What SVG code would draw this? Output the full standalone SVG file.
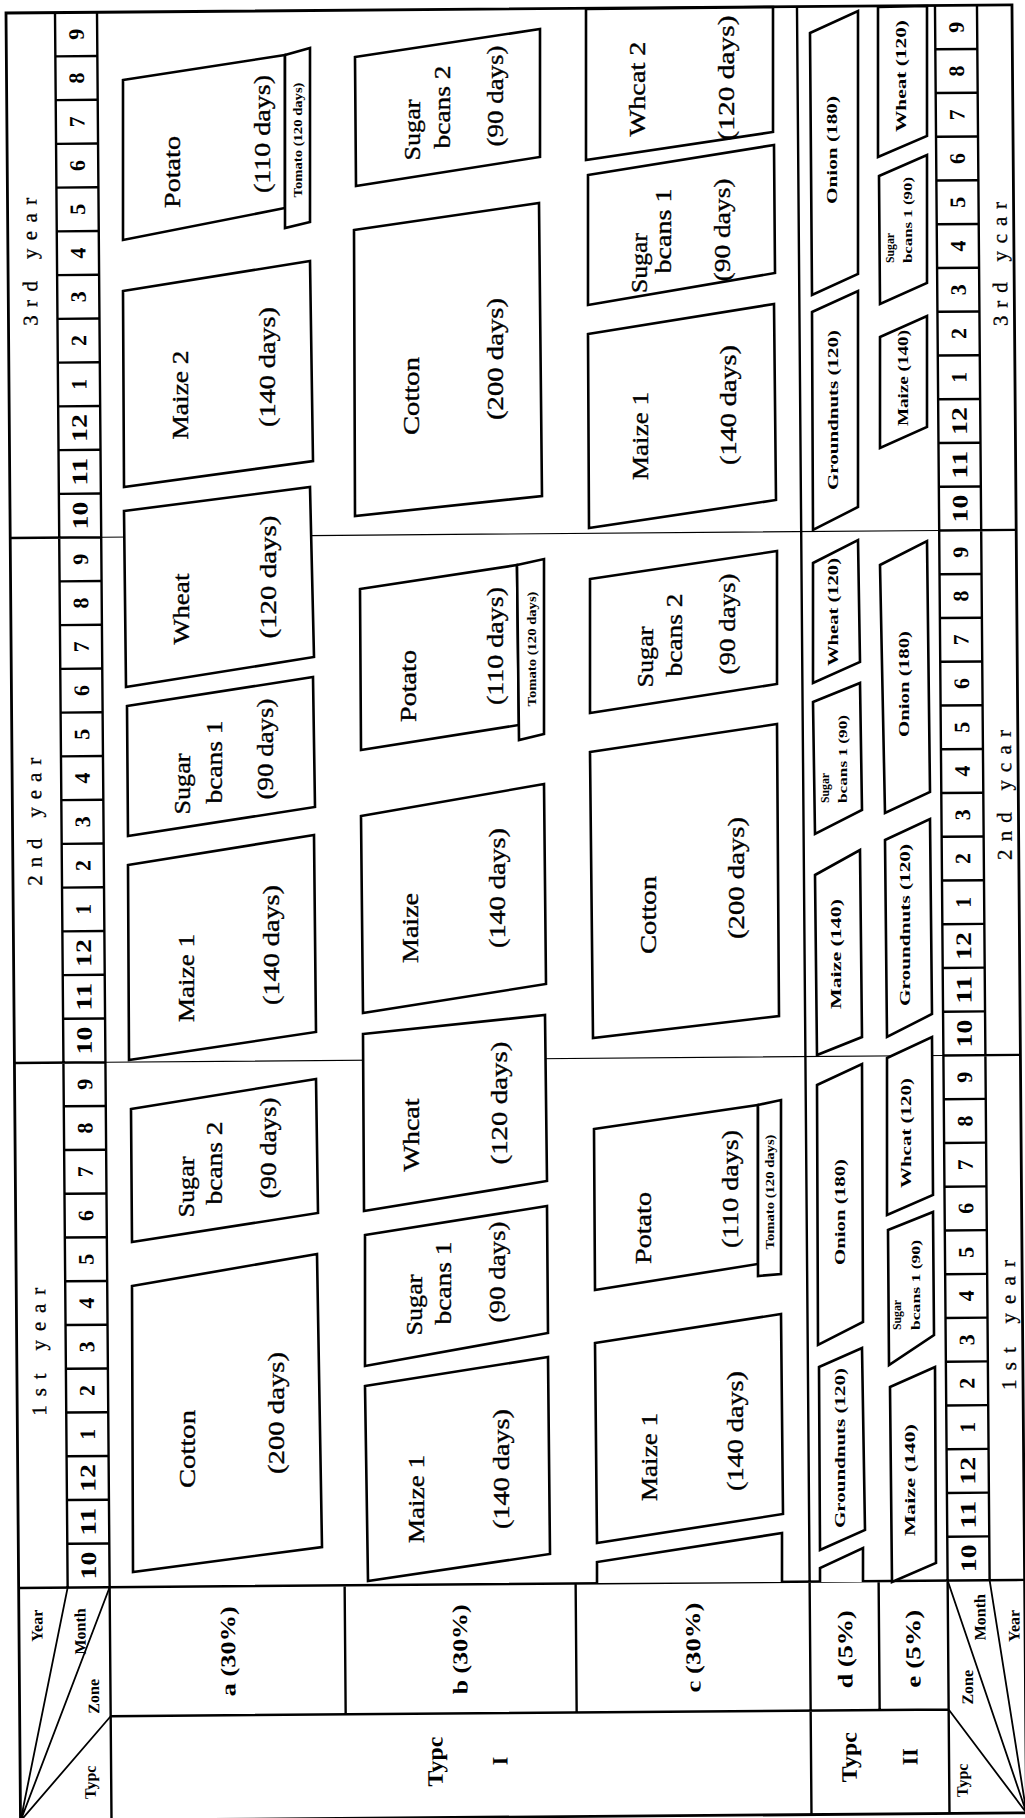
<svg xmlns="http://www.w3.org/2000/svg" xmlns:xlink="http://www.w3.org/1999/xlink" width="1025" height="1818" viewBox="0 0 1025 1818">
<style>
text{font-family:"Liberation Serif","Times New Roman",serif;fill:#000;text-anchor:middle;dominant-baseline:central}
.ln{stroke:#000;fill:none;stroke-width:2.4}
.bd{stroke:#000;fill:none;stroke-width:2.8}
.th{stroke:#000;fill:none;stroke-width:1.2}
.dg{stroke:#000;fill:none;stroke-width:1.8}
.nodes polygon,.nodes polyline{fill:#fff;stroke:#000;stroke-width:2.6;stroke-linejoin:miter}
.bg{font-size:23px;stroke:#000;stroke-width:0.35}
.sm{font-size:15px;font-weight:bold}
.tm{font-size:12px;font-weight:bold}
.sg{font-size:12px;font-weight:bold}
.bc{font-size:13px;font-weight:bold}
.mo{font-size:22px;font-weight:bold}
.yr{font-size:21px;stroke:#000;stroke-width:0.3}
.zn{font-size:21px;font-weight:bold}
.hd{font-size:16px;font-weight:bold}
.ty{font-size:22px;font-weight:bold}
</style>
<defs>
<g id="mcol">
<path class="ln" d="M-21 56.75H21M-21 100.5H21M-21 144.25H21M-21 188H21M-21 231.75H21M-21 275.5H21M-21 319.25H21M-21 363H21M-21 406.75H21M-21 450.5H21M-21 494.25H21M-21 581.75H21M-21 625.5H21M-21 669.25H21M-21 713H21M-21 756.75H21M-21 800.5H21M-21 844.25H21M-21 888H21M-21 931.75H21M-21 975.5H21M-21 1019.25H21M-21 1106.75H21M-21 1150.5H21M-21 1194.25H21M-21 1238H21M-21 1281.75H21M-21 1325.5H21M-21 1369.25H21M-21 1413H21M-21 1456.75H21M-21 1500.5H21M-21 1544.25H21"/>
<text class="mo" transform="translate(0 34.9) rotate(-90)">9</text>
<text class="mo" transform="translate(0 78.6) rotate(-90)">8</text>
<text class="mo" transform="translate(0 122.4) rotate(-90)">7</text>
<text class="mo" transform="translate(0 166.1) rotate(-90)">6</text>
<text class="mo" transform="translate(0 209.9) rotate(-90)">5</text>
<text class="mo" transform="translate(0 253.6) rotate(-90)">4</text>
<text class="mo" transform="translate(0 297.4) rotate(-90)">3</text>
<text class="mo" transform="translate(0 341.1) rotate(-90)">2</text>
<text class="mo" transform="translate(0 384.9) rotate(-90)">1</text>
<text class="mo" transform="translate(0 428.6) rotate(-90)" textLength="28" lengthAdjust="spacingAndGlyphs">12</text>
<text class="mo" transform="translate(0 472.4) rotate(-90)" textLength="28" lengthAdjust="spacingAndGlyphs">11</text>
<text class="mo" transform="translate(0 516.1) rotate(-90)" textLength="28" lengthAdjust="spacingAndGlyphs">10</text>
<text class="mo" transform="translate(0 559.9) rotate(-90)">9</text>
<text class="mo" transform="translate(0 603.6) rotate(-90)">8</text>
<text class="mo" transform="translate(0 647.4) rotate(-90)">7</text>
<text class="mo" transform="translate(0 691.1) rotate(-90)">6</text>
<text class="mo" transform="translate(0 734.9) rotate(-90)">5</text>
<text class="mo" transform="translate(0 778.6) rotate(-90)">4</text>
<text class="mo" transform="translate(0 822.4) rotate(-90)">3</text>
<text class="mo" transform="translate(0 866.1) rotate(-90)">2</text>
<text class="mo" transform="translate(0 909.9) rotate(-90)">1</text>
<text class="mo" transform="translate(0 953.6) rotate(-90)" textLength="28" lengthAdjust="spacingAndGlyphs">12</text>
<text class="mo" transform="translate(0 997.4) rotate(-90)" textLength="28" lengthAdjust="spacingAndGlyphs">11</text>
<text class="mo" transform="translate(0 1041.1) rotate(-90)" textLength="28" lengthAdjust="spacingAndGlyphs">10</text>
<text class="mo" transform="translate(0 1084.9) rotate(-90)">9</text>
<text class="mo" transform="translate(0 1128.6) rotate(-90)">8</text>
<text class="mo" transform="translate(0 1172.4) rotate(-90)">7</text>
<text class="mo" transform="translate(0 1216.1) rotate(-90)">6</text>
<text class="mo" transform="translate(0 1259.9) rotate(-90)">5</text>
<text class="mo" transform="translate(0 1303.6) rotate(-90)">4</text>
<text class="mo" transform="translate(0 1347.4) rotate(-90)">3</text>
<text class="mo" transform="translate(0 1391.1) rotate(-90)">2</text>
<text class="mo" transform="translate(0 1434.9) rotate(-90)">1</text>
<text class="mo" transform="translate(0 1478.6) rotate(-90)" textLength="28" lengthAdjust="spacingAndGlyphs">12</text>
<text class="mo" transform="translate(0 1522.4) rotate(-90)" textLength="28" lengthAdjust="spacingAndGlyphs">11</text>
<text class="mo" transform="translate(0 1566.1) rotate(-90)" textLength="28" lengthAdjust="spacingAndGlyphs">10</text>
</g>
</defs>
<rect x="0" y="0" width="1025" height="1818" fill="#fff"/>

<g id="table" transform="rotate(-0.46 6 13)">
<rect class="bd" x="6" y="13" width="1006" height="1808"/>
<path class="ln" d="M55 13V1588M97 13V1821M797 13V1821M935 13V1821M977 13V1588M6 1588H1012M97 1717H935M332 1588V1717M563 1588V1717M866 1588V1717M6 538H97M6 1063H97M935 538H1012M935 1063H1012"/>
<path class="th" d="M97 538H935M97 1063H935"/>
<path class="dg" d="M6 1821L55 1588M6 1821L97 1588M6 1821L97 1717M1012 1821L935 1588M1012 1821L977 1588M1012 1821L935 1717"/>
<use href="#mcol" xlink:href="#mcol" transform="translate(76 0)"/>
<use href="#mcol" xlink:href="#mcol" transform="translate(956 0)"/>
<text class="yr" transform="translate(28 262) rotate(-90)" textLength="128" lengthAdjust="spacing">3rd year</text>
<text class="yr" transform="translate(28 822) rotate(-90)" textLength="128" lengthAdjust="spacing">2nd year</text>
<text class="yr" transform="translate(28 1352) rotate(-90)" textLength="128" lengthAdjust="spacing">1st year</text>
<text class="yr" transform="translate(998 272) rotate(-90)" textLength="124" lengthAdjust="spacing">3rd ycar</text>
<text class="yr" transform="translate(998 803) rotate(-90)" textLength="130" lengthAdjust="spacing">2nd ycar</text>
<text class="yr" transform="translate(998 1333) rotate(-90)" textLength="130" lengthAdjust="spacing">1st year</text>
<text class="zn" transform="translate(215 1653) rotate(-90)" textLength="90" lengthAdjust="spacingAndGlyphs">a (30%)</text>
<text class="zn" transform="translate(447 1653) rotate(-90)" textLength="90" lengthAdjust="spacingAndGlyphs">b (30%)</text>
<text class="zn" transform="translate(680 1653) rotate(-90)" textLength="90" lengthAdjust="spacingAndGlyphs">c (30%)</text>
<text class="zn" transform="translate(832 1656) rotate(-90)" textLength="78" lengthAdjust="spacingAndGlyphs">d (5%)</text>
<text class="zn" transform="translate(900 1656) rotate(-90)" textLength="78" lengthAdjust="spacingAndGlyphs">e (5%)</text>
<text class="ty" transform="translate(421 1765) rotate(-90)" textLength="50" lengthAdjust="spacingAndGlyphs">Typc</text>
<text class="ty" transform="translate(486 1765) rotate(-90)">I</text>
<text class="ty" transform="translate(835 1764) rotate(-90)" textLength="50" lengthAdjust="spacingAndGlyphs">Typc</text>
<text class="ty" transform="translate(896 1764) rotate(-90)">II</text>
<text class="hd" transform="translate(24 1626) rotate(-90)">Year</text>
<text class="hd" transform="translate(67 1632) rotate(-90)">Month</text>
<text class="hd" transform="translate(80 1697) rotate(-90)">Zone</text>
<text class="hd" transform="translate(76 1783) rotate(-90)">Typc</text>
<text class="hd" transform="translate(954 1695) rotate(-90)">Zone</text>
<text class="hd" transform="translate(967 1625) rotate(-90)">Month</text>
<text class="hd" transform="translate(1001 1634) rotate(-90)">Year</text>
<text class="hd" transform="translate(948 1788) rotate(-90)">Typc</text>
</g>

<g id="crops" class="nodes">
<g id="a3-potato"><polygon points="123,80 285,55 285,208 123,240"/><text class="bg" transform="translate(172 172) rotate(-90)" textLength="72" lengthAdjust="spacingAndGlyphs">Potato</text><text class="bg" transform="translate(262 134) rotate(-90)" textLength="118" lengthAdjust="spacingAndGlyphs">(110 days)</text></g>
<g id="a3-tomato"><polygon points="285,55 310,48 310,222 285,228"/><text class="tm" transform="translate(298 140) rotate(-90)" textLength="115" lengthAdjust="spacingAndGlyphs">Tomato (120 days)</text></g>
<g id="a3-maize2"><polygon points="123,291 310,261 313,461 124,487"/><text class="bg" transform="translate(180 395) rotate(-90)" textLength="89" lengthAdjust="spacingAndGlyphs">Maize 2</text><text class="bg" transform="translate(267 367) rotate(-90)" textLength="120" lengthAdjust="spacingAndGlyphs">(140 days)</text></g>
<g id="a2-wheat"><polygon points="124,511 310,487 314,657 126,687"/><text class="bg" transform="translate(181 609) rotate(-90)" textLength="71" lengthAdjust="spacingAndGlyphs">Wheat</text><text class="bg" transform="translate(268 577) rotate(-90)" textLength="123" lengthAdjust="spacingAndGlyphs">(120 days)</text></g>
<g id="a2-sb1"><polygon points="127,706 313,677 315,807 128,836"/><text class="bg" transform="translate(182 784) rotate(-90)" textLength="61" lengthAdjust="spacingAndGlyphs">Sugar</text><text class="bg" transform="translate(214 762) rotate(-90)" textLength="83" lengthAdjust="spacingAndGlyphs">bcans 1</text><text class="bg" transform="translate(265 749) rotate(-90)" textLength="101" lengthAdjust="spacingAndGlyphs">(90 days)</text></g>
<g id="a2-maize1"><polygon points="128,865 314,835 316,1032 129,1060"/><text class="bg" transform="translate(186 978) rotate(-90)" textLength="88" lengthAdjust="spacingAndGlyphs">Maize 1</text><text class="bg" transform="translate(271 945) rotate(-90)" textLength="120" lengthAdjust="spacingAndGlyphs">(140 days)</text></g>
<g id="a1-sb2"><polygon points="131,1109 316,1079 318,1213 132,1242"/><text class="bg" transform="translate(186 1187) rotate(-90)" textLength="61" lengthAdjust="spacingAndGlyphs">Sugar</text><text class="bg" transform="translate(214 1163) rotate(-90)" textLength="83" lengthAdjust="spacingAndGlyphs">bcans 2</text><text class="bg" transform="translate(268 1148) rotate(-90)" textLength="101" lengthAdjust="spacingAndGlyphs">(90 days)</text></g>
<g id="a1-cotton"><polygon points="132,1286 317,1254 322,1547 133,1572"/><text class="bg" transform="translate(187 1449) rotate(-90)" textLength="78" lengthAdjust="spacingAndGlyphs">Cotton</text><text class="bg" transform="translate(276 1413) rotate(-90)" textLength="122" lengthAdjust="spacingAndGlyphs">(200 days)</text></g>

<g id="b3-sb2"><polygon points="355,57 540,29 540,157 356,186"/><text class="bg" transform="translate(412 130) rotate(-90)" textLength="61" lengthAdjust="spacingAndGlyphs">Sugar</text><text class="bg" transform="translate(442 107) rotate(-90)" textLength="83" lengthAdjust="spacingAndGlyphs">bcans 2</text><text class="bg" transform="translate(495 96) rotate(-90)" textLength="101" lengthAdjust="spacingAndGlyphs">(90 days)</text></g>
<g id="b3-cotton"><polygon points="354,230 539,203 542,496 355,516"/><text class="bg" transform="translate(411 396) rotate(-90)" textLength="78" lengthAdjust="spacingAndGlyphs">Cotton</text><text class="bg" transform="translate(495 359) rotate(-90)" textLength="122" lengthAdjust="spacingAndGlyphs">(200 days)</text></g>
<g id="b2-potato"><polygon points="360,589 517,565 519,725 361,750"/><text class="bg" transform="translate(408 686) rotate(-90)" textLength="72" lengthAdjust="spacingAndGlyphs">Potato</text><text class="bg" transform="translate(495 646) rotate(-90)" textLength="118" lengthAdjust="spacingAndGlyphs">(110 days)</text></g>
<g id="b2-tomato"><polygon points="517,565 544,559 544,734 519,740"/><text class="tm" transform="translate(532 649) rotate(-90)" textLength="115" lengthAdjust="spacingAndGlyphs">Tomato (120 days)</text></g>
<g id="b2-maize"><polygon points="361,816 544,784 546,984 363,1013"/><text class="bg" transform="translate(410 928) rotate(-90)" textLength="70" lengthAdjust="spacingAndGlyphs">Maize</text><text class="bg" transform="translate(497 888) rotate(-90)" textLength="120" lengthAdjust="spacingAndGlyphs">(140 days)</text></g>
<g id="b1-wheat"><polygon points="363,1034 545,1015 547,1181 364,1211"/><text class="bg" transform="translate(411 1135) rotate(-90)" textLength="73" lengthAdjust="spacingAndGlyphs">Whcat</text><text class="bg" transform="translate(499 1103) rotate(-90)" textLength="123" lengthAdjust="spacingAndGlyphs">(120 days)</text></g>
<g id="b1-sb1"><polygon points="365,1235 547,1206 548,1333 365,1366"/><text class="bg" transform="translate(414 1305) rotate(-90)" textLength="61" lengthAdjust="spacingAndGlyphs">Sugar</text><text class="bg" transform="translate(443 1283) rotate(-90)" textLength="83" lengthAdjust="spacingAndGlyphs">bcans 1</text><text class="bg" transform="translate(497 1272) rotate(-90)" textLength="101" lengthAdjust="spacingAndGlyphs">(90 days)</text></g>
<g id="b1-maize1"><polygon points="365,1386 548,1357 550,1554 368,1581"/><text class="bg" transform="translate(416 1499) rotate(-90)" textLength="88" lengthAdjust="spacingAndGlyphs">Maize 1</text><text class="bg" transform="translate(501 1469) rotate(-90)" textLength="120" lengthAdjust="spacingAndGlyphs">(140 days)</text></g>

<g id="c3-wheat2"><polygon points="586,9 773,7 773,132 586,160"/><text class="bg" transform="translate(637 89) rotate(-90)" textLength="95" lengthAdjust="spacingAndGlyphs">Whcat 2</text><text class="bg" transform="translate(726 78) rotate(-90)" textLength="125" lengthAdjust="spacingAndGlyphs">(120 days)</text></g>
<g id="c3-sb1"><polygon points="588,175 774,145 775,273 588,305"/><text class="bg" transform="translate(639 263) rotate(-90)" textLength="60" lengthAdjust="spacingAndGlyphs">Sugar</text><text class="bg" transform="translate(663 231) rotate(-90)" textLength="85" lengthAdjust="spacingAndGlyphs">bcans 1</text><text class="bg" transform="translate(722 230) rotate(-90)" textLength="103" lengthAdjust="spacingAndGlyphs">(90 days)</text></g>
<g id="c3-maize1"><polygon points="588,334 774,304 776,500 589,528"/><text class="bg" transform="translate(640 436) rotate(-90)" textLength="88" lengthAdjust="spacingAndGlyphs">Maize 1</text><text class="bg" transform="translate(728 405) rotate(-90)" textLength="120" lengthAdjust="spacingAndGlyphs">(140 days)</text></g>
<g id="c2-sb2"><polygon points="590,579 777,551 777,684 590,713"/><text class="bg" transform="translate(645 657) rotate(-90)" textLength="61" lengthAdjust="spacingAndGlyphs">Sugar</text><text class="bg" transform="translate(674 635) rotate(-90)" textLength="83" lengthAdjust="spacingAndGlyphs">bcans 2</text><text class="bg" transform="translate(727 624) rotate(-90)" textLength="101" lengthAdjust="spacingAndGlyphs">(90 days)</text></g>
<g id="c2-cotton"><polygon points="590,752 777,724 779,1016 593,1038"/><text class="bg" transform="translate(648 915) rotate(-90)" textLength="78" lengthAdjust="spacingAndGlyphs">Cotton</text><text class="bg" transform="translate(736 878) rotate(-90)" textLength="122" lengthAdjust="spacingAndGlyphs">(200 days)</text></g>
<g id="c1-potato"><polygon points="594,1129 758,1105 758,1264 595,1290"/><text class="bg" transform="translate(643 1228) rotate(-90)" textLength="72" lengthAdjust="spacingAndGlyphs">Potato</text><text class="bg" transform="translate(730 1189) rotate(-90)" textLength="118" lengthAdjust="spacingAndGlyphs">(110 days)</text></g>
<g id="c1-tomato"><polygon points="758,1105 781,1100 781,1274 758,1276"/><text class="tm" transform="translate(770 1192) rotate(-90)" textLength="115" lengthAdjust="spacingAndGlyphs">Tomato (120 days)</text></g>
<g id="c1-maize1"><polygon points="595,1343 781,1314 783,1514 597,1543"/><text class="bg" transform="translate(649 1457) rotate(-90)" textLength="88" lengthAdjust="spacingAndGlyphs">Maize 1</text><text class="bg" transform="translate(735 1431) rotate(-90)" textLength="120" lengthAdjust="spacingAndGlyphs">(140 days)</text></g>
<g id="c1-carry"><polyline points="597,1583 597,1562 782,1533 782,1582"/></g>

<g id="d3-onion"><polygon points="810,33 858,11 858,274 812,295"/><text class="sm" transform="translate(832 150) rotate(-90)" textLength="108" lengthAdjust="spacingAndGlyphs">Onion (180)</text></g>
<g id="d3-gnut"><polygon points="812,312 858,291 858,507 813,530"/><text class="sm" transform="translate(833 410) rotate(-90)" textLength="160" lengthAdjust="spacingAndGlyphs">Groundnuts (120)</text></g>
<g id="d2-wheat"><polygon points="813,563 858,540 860,662 813,683"/><text class="sm" transform="translate(833 612) rotate(-90)" textLength="108" lengthAdjust="spacingAndGlyphs">Wheat (120)</text></g>
<g id="d2-sb1"><polygon points="813,702 860,683 862,810 815,834"/><text class="sg" style="text-anchor:start" transform="translate(825 803) rotate(-90)" textLength="30" lengthAdjust="spacingAndGlyphs">Sugar</text><text class="bc" style="text-anchor:start" transform="translate(842 803) rotate(-90)" textLength="88" lengthAdjust="spacingAndGlyphs">bcans 1 (90)</text></g>
<g id="d2-maize"><polygon points="815,875 860,850 862,1037 817,1055"/><text class="sm" transform="translate(836 954) rotate(-90)" textLength="110" lengthAdjust="spacingAndGlyphs">Maize (140)</text></g>
<g id="d1-onion"><polygon points="817,1085 862,1064 863,1322 818,1345"/><text class="sm" transform="translate(840 1212) rotate(-90)" textLength="106" lengthAdjust="spacingAndGlyphs">Onion (180)</text></g>
<g id="d1-gnut"><polygon points="819,1367 862,1348 865,1530 820,1550"/><text class="sm" transform="translate(840 1448) rotate(-90)" textLength="160" lengthAdjust="spacingAndGlyphs">Groundnuts (120)</text></g>
<g id="d1-carry"><polyline points="820,1582 820,1568 863,1548 863,1582"/></g>

<g id="e3-wheat"><polygon points="878,7 927,6 927,136 878,157"/><text class="sm" transform="translate(901 76) rotate(-90)" textLength="112" lengthAdjust="spacingAndGlyphs">Wheat (120)</text></g>
<g id="e3-sb1"><polygon points="879,176 927,155 927,283 880,304"/><text class="sg" style="text-anchor:start" transform="translate(890 263) rotate(-90)" textLength="30" lengthAdjust="spacingAndGlyphs">Sugar</text><text class="bc" style="text-anchor:start" transform="translate(907 263) rotate(-90)" textLength="86" lengthAdjust="spacingAndGlyphs">bcans 1 (90)</text></g>
<g id="e3-maize"><polygon points="880,337 927,316 927,427 880,448"/><text class="sm" transform="translate(903 378) rotate(-90)" textLength="96" lengthAdjust="spacingAndGlyphs">Maize (140)</text></g>
<g id="e2-onion"><polygon points="880,565 927,541 930,792 885,813"/><text class="sm" transform="translate(904 684) rotate(-90)" textLength="106" lengthAdjust="spacingAndGlyphs">Onion (180)</text></g>
<g id="e2-gnut"><polygon points="885,840 930,819 932,1014 887,1037"/><text class="sm" transform="translate(905 925) rotate(-90)" textLength="162" lengthAdjust="spacingAndGlyphs">Groundnuts (120)</text></g>
<g id="e1-wheat"><polygon points="887,1058 932,1037 933,1195 887,1215"/><text class="sm" transform="translate(906 1133) rotate(-90)" textLength="110" lengthAdjust="spacingAndGlyphs">Whcat (120)</text></g>
<g id="e1-sb1"><polygon points="888,1230 933,1212 934,1335 889,1365"/><text class="sg" style="text-anchor:start" transform="translate(897 1330) rotate(-90)" textLength="30" lengthAdjust="spacingAndGlyphs">Sugar</text><text class="bc" style="text-anchor:start" transform="translate(915 1330) rotate(-90)" textLength="90" lengthAdjust="spacingAndGlyphs">bcans 1 (90)</text></g>
<g id="e1-maize"><polygon points="890,1387 935,1367 936,1563 892,1582"/><text class="sm" transform="translate(910 1480) rotate(-90)" textLength="112" lengthAdjust="spacingAndGlyphs">Maize (140)</text></g>
</g>
</svg>
